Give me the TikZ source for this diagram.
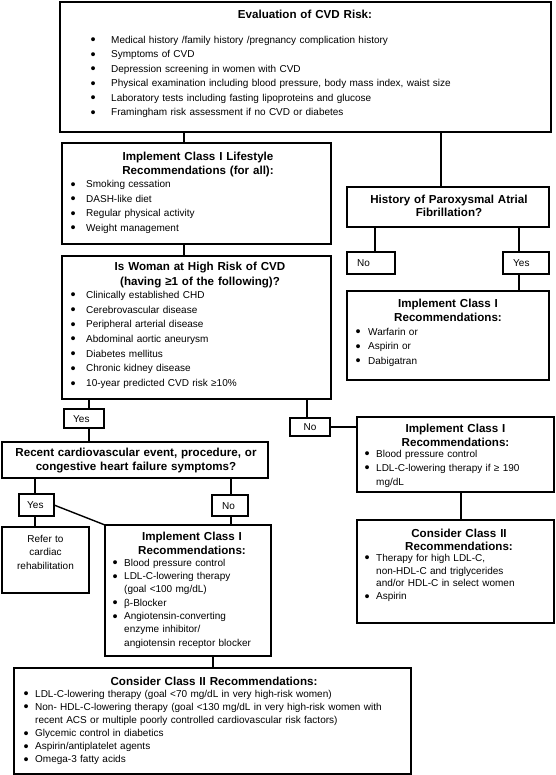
\documentclass[tikz,border=0pt]{standalone}
\usepackage{graphicx}
\usepackage{fontspec}
\setmainfont{Liberation Sans}
\newlength\bgap
\newcommand\mybul{\raisebox{-1.5pt}{\scalebox{1.45}{\textbullet}}}
\newcommand\bi[1]{\leavevmode\llap{\mybul\hspace{\bgap}}#1\par}
\begin{document}
\begin{tikzpicture}[x=1pt,y=-1pt,
  box/.style={draw, line width=1.4pt, rectangle, inner sep=0pt, outer sep=0pt, anchor=north west},
  conn/.style={line width=1.4pt},
  ttl/.style={font=\fontsize{11.6}{#1}\selectfont\bfseries, align=center, inner sep=0pt, anchor=base},
  ttl/.default=14,
  itm/.style={font=\fontsize{10}{#1}\selectfont, align=left, inner sep=0pt, anchor=base west},
  itm/.default=14.5,
  lbl/.style={font=\fontsize{10}{12}\selectfont, inner sep=0pt, anchor=base west}]
\path[use as bounding box] (0,0) rectangle (555,775);
\fill[white] (0,0) rectangle (555,775);

% ---------- boxes ----------
\node[box, minimum width=491pt, minimum height=130pt] (A) at (60,2) {};
\node[box, minimum width=269pt, minimum height=101pt] (B) at (62,143) {};
\node[box, minimum width=269pt, minimum height=143pt] (C) at (62,256) {};
\node[box, minimum width=202pt, minimum height=40pt] (D) at (347,187) {};
\node[box, minimum width=48pt, minimum height=22pt] (E) at (347,252) {};
\node[box, minimum width=46pt, minimum height=22pt] (F) at (503,252) {};
\node[box, minimum width=202pt, minimum height=89pt] (G) at (347,291) {};
\node[box, minimum width=40pt, minimum height=19pt] (H) at (64,409) {};
\node[box, minimum width=40pt, minimum height=18pt] (I) at (290,418) {};
\node[box, minimum width=266pt, minimum height=36pt] (J) at (2,442) {};
\node[box, minimum width=197pt, minimum height=75pt] (K) at (357,417) {};
\node[box, minimum width=35pt, minimum height=22pt] (L) at (19,494) {};
\node[box, minimum width=36pt, minimum height=21pt] (M) at (212,495) {};
\node[box, minimum width=87pt, minimum height=66pt] (N) at (2,527) {};
\node[box, minimum width=166pt, minimum height=131pt] (O) at (105,525) {};
\node[box, minimum width=197pt, minimum height=103pt] (Q) at (357,520) {};
\node[box, minimum width=397pt, minimum height=106pt] (P) at (14,668) {};

% ---------- texts ----------
\node[ttl, text width=480pt] (At) at (305,19) {Evaluation of CVD Risk:};
\node[itm=14.5, text width=430pt] (Ai) at (111,43.3) {\setlength\bgap{15.4pt}%
\bi{Medical history /family history /pregnancy complication history}%
\bi{Symptoms of CVD}%
\bi{Depression screening in women with CVD}%
\bi{Physical examination including blood pressure, body mass index, waist size}%
\bi{Laboratory tests including fasting lipoproteins and glucose}%
\bi{Framingham risk assessment if no CVD or diabetes}};

\node[ttl=14, text width=262pt] (Bt) at (198,160.5) {Implement Class I Lifestyle\\Recommendations (for all):};
\node[itm=14.5, text width=240pt] (Bi) at (86,187.8) {\setlength\bgap{10.4pt}%
\bi{Smoking cessation}%
\bi{DASH-like diet}%
\bi{Regular physical activity}%
\bi{Weight management}};

\node[ttl=15, text width=262pt] (Ct) at (200,270.5) {Is Woman at High Risk of CVD\\(having ≥1 of the following)?};
\node[itm=14.7, text width=240pt] (Ci) at (86,298.3) {\setlength\bgap{10.4pt}%
\bi{Clinically established CHD}%
\bi{Cerebrovascular disease}%
\bi{Peripheral arterial disease}%
\bi{Abdominal aortic aneurysm}%
\bi{Diabetes mellitus}%
\bi{Chronic kidney disease}%
\bi{10-year predicted CVD risk ≥10\%}};

\node[ttl=13.5, text width=198pt] (Dt) at (449,203.5) {History of Paroxysmal Atrial\\Fibrillation?};
\node[lbl] (Et) at (357,266.6) {No};
\node[lbl] (Ft) at (513,266.6) {Yes};

\node[ttl=13.5, text width=198pt] (Gt) at (448,307.5) {Implement Class I\\Recommendations:};
\node[itm=14.5, text width=175pt] (Gi) at (368,335.3) {\setlength\bgap{7.4pt}%
\bi{Warfarin or}%
\bi{Aspirin or}%
\bi{Dabigatran}};

\node[lbl] (Ht) at (73,422) {Yes};
\node[lbl, anchor=base] (It) at (310,430.6) {No};

\node[ttl=14, text width=262pt] (Jt) at (136,456) {Recent cardiovascular event, procedure, or\\congestive heart failure symptoms?};

\node[ttl=13.5, text width=193pt] (Kt) at (455.5,432.5) {Implement Class I\\Recommendations:};
\node[itm=14, text width=175pt] (Ki) at (376,457.3) {\setlength\bgap{6.4pt}%
\bi{Blood pressure control}%
\bi{LDL-C-lowering therapy if ≥ 190\newline mg/dL}};

\node[lbl] (Lt) at (27,508.6) {Yes};
\node[lbl] (Mt) at (222,509.2) {No};

\node[font=\fontsize{10}{13.3}\selectfont, align=center, text width=85pt, inner sep=0pt, anchor=base] (Nt) at (45.5,542.5) {Refer to\\cardiac\\rehabilitation};

\node[ttl=13.5, text width=162pt] (Ot) at (192,540.5) {Implement Class I\\Recommendations:};
\node[itm=13.3, text width=145pt] (Oi) at (124,566.3) {\setlength\bgap{6.4pt}%
\bi{Blood pressure control}%
\bi{LDL-C-lowering therapy\newline (goal <100 mg/dL)}%
\bi{β-Blocker}%
\bi{Angiotensin-converting\newline enzyme inhibitor/\newline angiotensin receptor blocker}};

\node[ttl=13, text width=193pt] (Qt) at (459,537) {Consider Class II\\Recommendations:};
\node[itm=12.8, text width=175pt] (Qi) at (376,561.3) {\setlength\bgap{6.4pt}%
\bi{Therapy for high LDL-C,\newline non-HDL-C and triglycerides\newline and/or HDL-C in select women}%
\bi{Aspirin}};

\node[ttl, text width=390pt] (Pt) at (214,685) {Consider Class II Recommendations:};
\node[itm=13.1, text width=370pt] (Pi) at (35,697.3) {\setlength\bgap{6.4pt}%
\bi{LDL-C-lowering therapy (goal <70 mg/dL in very high-risk women)}%
\bi{Non- HDL-C-lowering therapy (goal <130 mg/dL in very high-risk women with\newline recent ACS or multiple poorly controlled cardiovascular risk factors)}%
\bi{Glycemic control in diabetics}%
\bi{Aspirin/antiplatelet agents}%
\bi{Omega-3 fatty acids}};

% ---------- connector columns ----------
\coordinate (x184) at (184,0);
\coordinate (x441) at (441,0);
\coordinate (x375) at (375,0);
\coordinate (x519) at (519,0);
\coordinate (x89) at (89,0);
\coordinate (x307) at (307,0);
\coordinate (x35) at (35,0);
\coordinate (x231) at (231,0);
\coordinate (x461) at (461,0);
\coordinate (x213) at (213,0);

% ---------- connectors ----------
\draw[conn] (A.south -| x184) -- (B.north -| x184);
\draw[conn] (A.south -| x441) -- (D.north -| x441);
\draw[conn] (B.south -| x184) -- (C.north -| x184);
\draw[conn] (D.south -| x375) -- (E.north -| x375);
\draw[conn] (D.south -| x519) -- (F.north -| x519);
\draw[conn] (F.south -| x519) -- (G.north -| x519);
\draw[conn] (C.south -| x89) -- (H.north -| x89);
\draw[conn] (H.south -| x89) -- (J.north -| x89);
\draw[conn] (C.south -| x307) -- (I.north -| x307);
\draw[conn] (I.east) -- (K.west |- I.east);
\draw[conn] (J.south -| x35) -- (L.north -| x35);
\draw[conn] (J.south -| x231) -- (M.north -| x231);
\draw[conn] (L.south -| x35) -- (N.north -| x35);
\draw[conn] (L.east) -- (O.north west);
\draw[conn] (M.south -| x231) -- (O.north -| x231);
\draw[conn] (K.south -| x461) -- (Q.north -| x461);
\draw[conn] (O.south -| x213) -- (P.north -| x213);
\end{tikzpicture}
\end{document}
